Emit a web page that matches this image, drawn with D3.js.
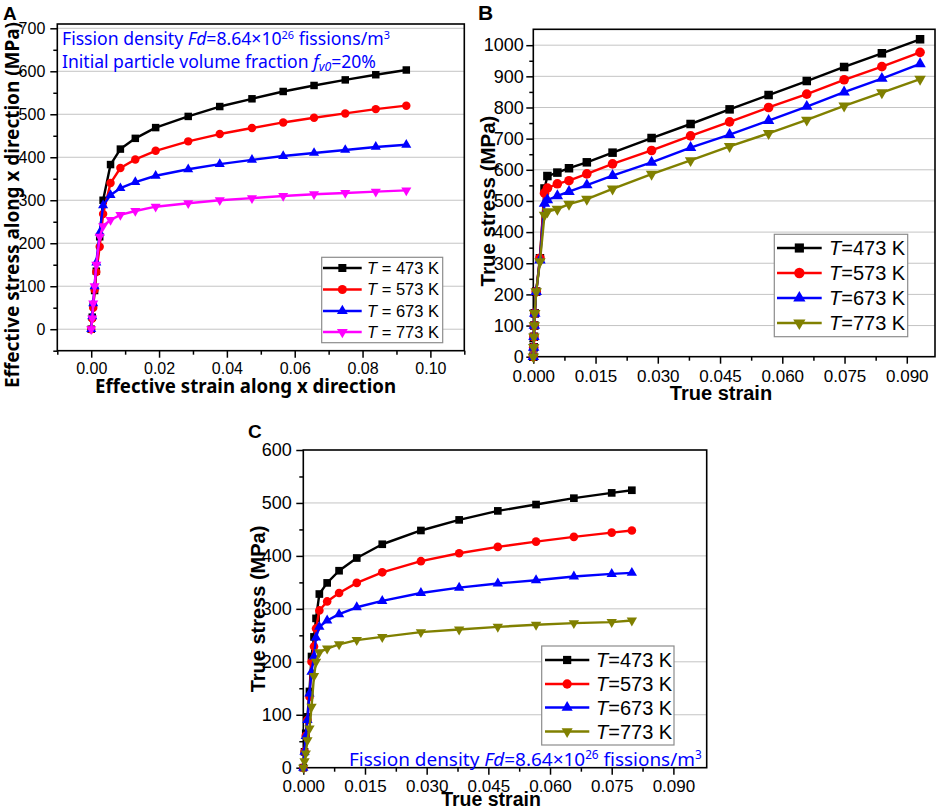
<!DOCTYPE html>
<html>
<head>
<meta charset="utf-8">
<script src="https://cdnjs.cloudflare.com/ajax/libs/d3/7.8.5/d3.min.js"></script>
<style>
  body { margin: 0; background: #fff; }
  svg { display: block; }
</style>
</head>
<body>
<div id="chart"></div>
<script>
// ---- data ----
const temps = ["473", "573", "673", "773"];

// panel A : effective stress-strain along x
const strainA = [0, 0.0003, 0.0006, 0.001, 0.0015, 0.0025, 0.0035, 0.0057, 0.0086, 0.013, 0.019, 0.0286, 0.0379, 0.0474, 0.0566, 0.0657, 0.0749, 0.0839, 0.0929];
const stressA473 = [0, 28, 55, 90, 135, 215, 300, 383, 419, 444, 469, 495, 518, 536, 553, 567, 580, 592, 603];
const stressA573 = [0, 25, 50, 92, 133, 192, 268, 340, 375, 395, 415, 437, 454, 468, 481, 492, 502, 512, 520];
const stressA673 = [0, 30, 60, 100, 155, 225, 288, 312, 328, 342, 357, 372, 384, 394, 403, 410, 417, 424, 429];
const stressA773 = [0, 25, 60, 100, 150, 215, 240, 254, 266, 275, 285, 293, 300, 305, 310, 314, 317, 320, 323];

// panel B : true stress-strain
const strainB = [0, 0.0001, 0.00015, 0.00025, 0.00035, 0.0007, 0.0016, 0.0027, 0.0034, 0.0058, 0.0086, 0.0129, 0.0191, 0.0285, 0.0379, 0.0473, 0.0567, 0.0659, 0.0749, 0.084, 0.0932];
const stressB473 = [0, 30, 64, 100, 139, 209, 316, 540, 580, 591, 605, 624, 655, 702, 747, 794, 840, 885, 930, 974, 1019];
const stressB573 = [0, 30, 64, 100, 139, 209, 316, 525, 541, 555, 565, 587, 619, 662, 709, 754, 800, 843, 889, 931, 977];
const stressB673 = [0, 30, 64, 100, 139, 209, 310, 492, 503, 516, 530, 551, 581, 624, 671, 713, 758, 803, 849, 893, 940];
const stressB773 = [0, 30, 64, 100, 139, 209, 305, 455, 466, 474, 490, 506, 539, 586, 630, 675, 717, 760, 805, 848, 891];

// panel C : true stress-strain
const strainC = [0, 0.0003, 0.0006, 0.001, 0.0015, 0.002, 0.0026, 0.0031, 0.0039, 0.0058, 0.0087, 0.013, 0.0192, 0.0286, 0.0379, 0.0473, 0.0566, 0.0658, 0.075, 0.0799];
const stressC473 = [0, 30, 65, 96, 144, 210, 247, 282, 328, 349, 372, 396, 422, 448, 468, 485, 497, 509, 519, 524];
const stressC573 = [0, 30, 60, 90, 134, 200, 229, 263, 297, 314, 330, 349, 369, 390, 405, 417, 427, 436, 444, 448];
const stressC673 = [0, 30, 60, 90, 140, 181, 210, 246, 266, 278, 290, 303, 315, 330, 340, 348, 354, 361, 366, 368];
const stressC773 = [0, 12, 27, 52, 74, 115, 173, 200, 218, 225, 233, 241, 247, 256, 261, 266, 270, 273, 275, 278];

// ticks
const xTicksA = [0, 0.02, 0.04, 0.06, 0.08, 0.10];
const xMinorA = [-0.01, 0.01, 0.03, 0.05, 0.07, 0.09, 0.11];
const yTicksA = [0, 100, 200, 300, 400, 500, 600, 700];
const yMinorA = [-50, 50, 150, 250, 350, 450, 550, 650];
const xTicksBC = [0, 0.015, 0.030, 0.045, 0.060, 0.075, 0.090];
const xMinorBC = [0.0075, 0.0225, 0.0375, 0.0525, 0.0675, 0.0825];
const yTicksB = [0, 100, 200, 300, 400, 500, 600, 700, 800, 900, 1000];
const yMinorB = [50, 150, 250, 350, 450, 550, 650, 750, 850, 950];
const yTicksC = [0, 100, 200, 300, 400, 500, 600];
const yMinorC = [50, 150, 250, 350, 450, 550];

// ---- styles ----
const colorsA = ["#000000", "#ff0000", "#0000ff", "#ff00ff"];
const colorsBC = ["#000000", "#ff0000", "#0000ff", "#808000"];
const shapes = [d3.symbolSquare, d3.symbolCircle, d3.symbolTriangle, d3.symbolTriangle];
const rotations = [0, 0, 0, 180];
const sizes = [56, 56, 44, 44];
const tickFont = "'Liberation Sans', Arial, sans-serif";
const cjkLike = "'Noto Sans', 'Open Sans', sans-serif";

const svg = d3.select("#chart").append("svg")
    .attr("width", 941)
    .attr("height", 809);

function marker(g, i, cx, cy, scale, color) {
  g.append("path")
    .attr("d", d3.symbol().type(shapes[i]).size(sizes[i] * scale)())
    .attr("transform", `translate(${cx},${cy}) rotate(${rotations[i]})`)
    .attr("fill", color);
}

function drawPanel(p) {
  const x = d3.scaleLinear().domain(p.xDomain).range([p.left, p.right]);
  const y = d3.scaleLinear().domain(p.yDomain).range([p.bottom, p.top]);
  const g = svg.append("g");

  // grid at major y ticks
  g.selectAll("line.grid")
    .data(p.yTicks.filter(v => y(v) > p.top + 1 && y(v) < p.bottom - 1))
    .join("line")
    .attr("x1", p.left).attr("x2", p.right)
    .attr("y1", d => y(d)).attr("y2", d => y(d))
    .attr("stroke", "#c4c4c4").attr("stroke-width", 1);

  // axes
  const ax = g.append("g").attr("transform", `translate(0,${p.bottom})`)
    .call(d3.axisBottom(x).tickValues(p.xTicks).tickSize(7).tickSizeOuter(0)
      .tickPadding(p.xPad).tickFormat(d3.format(p.xFormat)));
  g.append("g").attr("transform", `translate(0,${p.bottom})`)
    .call(d3.axisBottom(x).tickValues(p.xMinor.filter(v => v >= p.xDomain[0] && v <= p.xDomain[1]))
      .tickSize(4).tickSizeOuter(0).tickFormat(""));
  const ay = g.append("g").attr("transform", `translate(${p.left},0)`)
    .call(d3.axisLeft(y).tickValues(p.yTicks).tickSize(7).tickSizeOuter(0)
      .tickPadding(p.yPad).tickFormat(d3.format("d")));
  g.append("g").attr("transform", `translate(${p.left},0)`)
    .call(d3.axisLeft(y).tickValues(p.yMinor).tickSize(4).tickSizeOuter(0).tickFormat(""));

  g.selectAll(".domain").remove();
  g.selectAll(".tick line").attr("stroke", "#000").attr("stroke-width", 1.5);
  ax.selectAll("text").attr("font-family", tickFont).attr("font-size", p.xFont).attr("fill", "#000");
  ay.selectAll("text").attr("font-family", tickFont).attr("font-size", p.yFont).attr("fill", "#000");

  // frame
  g.append("rect")
    .attr("x", p.left).attr("y", p.top)
    .attr("width", p.right - p.left).attr("height", p.bottom - p.top)
    .attr("fill", "none").attr("stroke", "#000").attr("stroke-width", 1.6);

  // curves
  const line = d3.line().x(d => x(d[0])).y(d => y(d[1]));
  p.series.forEach((s, i) => {
    const pts = p.strain.map((e, k) => [e, s[k]]);
    const sg = g.append("g");
    sg.append("path").datum(pts)
      .attr("d", line)
      .attr("fill", "none")
      .attr("stroke", p.colors[i])
      .attr("stroke-width", 2.4)
      .attr("stroke-linejoin", "round");
    pts.forEach(d => marker(sg, i, x(d[0]), y(d[1]), p.markScale, p.colors[i]));
  });

  // legend
  const L = p.legend;
  g.append("rect")
    .attr("x", L.x0).attr("y", L.y0)
    .attr("width", L.x1 - L.x0).attr("height", L.y1 - L.y0)
    .attr("fill", "#fff").attr("stroke", "#8c8c8c").attr("stroke-width", 1.2);
  temps.forEach((t, i) => {
    const ry = L.rows[i];
    g.append("line")
      .attr("x1", L.lx0).attr("x2", L.lx1).attr("y1", ry).attr("y2", ry)
      .attr("stroke", p.colors[i]).attr("stroke-width", 2.4);
    marker(g, i, (L.lx0 + L.lx1) / 2, ry, p.markScale * 1.15, p.colors[i]);
    const tx = g.append("text")
      .attr("x", L.tx).attr("y", ry).attr("dy", "0.36em")
      .attr("font-family", tickFont).attr("font-size", L.font);
    tx.append("tspan").attr("font-style", "italic").text("T");
    tx.append("tspan").text(L.sep + t + " K");
  });

  return g;
}

// fit a text element's advance to a target width by scaling its font size
function fitWidth(t, target) {
  const w = t.node().getComputedTextLength();
  const fs = parseFloat(t.attr("font-size"));
  t.attr("font-size", fs * target / w);
}

function fissionText(x0, y0, fs, target) {
  const t = svg.append("text")
    .attr("x", x0).attr("y", y0)
    .attr("font-family", cjkLike).attr("font-size", fs).attr("fill", "#0000ff");
  t.append("tspan").text("Fission density ");
  t.append("tspan").attr("font-style", "italic").text("Fd");
  t.append("tspan").text("=8.64\u00d710");
  t.append("tspan").attr("font-size", "0.62em").attr("baseline-shift", "55%").text("26");
  t.append("tspan").text(" fissions/m");
  t.append("tspan").attr("font-size", "0.62em").attr("baseline-shift", "55%").text("3");
  fitWidth(t, target);
  return t;
}

// ---- panel A ----
drawPanel({
  left: 57.3, right: 464.3, top: 24, bottom: 350.7,
  xDomain: [-0.01, 0.11], yDomain: [-50, 710],
  xTicks: xTicksA, xMinor: xMinorA, yTicks: yTicksA, yMinor: yMinorA,
  xFormat: ".2f", xPad: 5, yPad: 5, xFont: 16, yFont: 16,
  strain: strainA, series: [stressA473, stressA573, stressA673, stressA773],
  colors: colorsA, markScale: 1,
  legend: { x0: 321.7, x1: 442.7, y0: 257.3, y1: 342.7, rows: [268, 289.5, 311, 332],
            lx0: 323, lx1: 361.7, tx: 367, font: 16.5, sep: " = " }
});

svg.append("text").attr("x", 3).attr("y", 20)
  .attr("font-family", tickFont).attr("font-weight", "bold").attr("font-size", 19).text("A");

svg.append("text")
  .attr("x", 245.5).attr("y", 393)
  .attr("text-anchor", "middle")
  .attr("font-family", cjkLike).attr("font-weight", "bold").attr("font-size", 19)
  .attr("textLength", 301).attr("lengthAdjust", "spacingAndGlyphs")
  .text("Effective strain along x direction");

svg.append("text")
  .attr("transform", "translate(18.5,205) rotate(-90)")
  .attr("text-anchor", "middle")
  .attr("font-family", cjkLike).attr("font-weight", "bold").attr("font-size", 19)
  .attr("textLength", 366).attr("lengthAdjust", "spacingAndGlyphs")
  .text("Effective stress along x direction (MPa)");

fissionText(62, 45, 18, 328);
const vf = svg.append("text")
  .attr("x", 62).attr("y", 68)
  .attr("font-family", cjkLike).attr("font-size", 18).attr("fill", "#0000ff");
vf.append("tspan").text("Initial particle volume fraction ");
vf.append("tspan").attr("font-style", "italic").text("f");
vf.append("tspan").attr("font-style", "italic").attr("font-size", "0.7em").attr("baseline-shift", "-25%").text("v0");
vf.append("tspan").text("=20%");
fitWidth(vf, 314);

// ---- panel B ----
drawPanel({
  left: 533.3, right: 935, top: 29.3, bottom: 356.7,
  xDomain: [0, 0.0968], yDomain: [0, 1051],
  xTicks: xTicksBC, xMinor: xMinorBC, yTicks: yTicksB, yMinor: yMinorB,
  xFormat: ".3f", xPad: 6.5, yPad: 2.5, xFont: 17, yFont: 18,
  strain: strainB, series: [stressB473, stressB573, stressB673, stressB773],
  colors: colorsBC, markScale: 1.3,
  legend: { x0: 774.3, x1: 907.7, y0: 234.3, y1: 336.7, rows: [248, 273, 298, 323],
            lx0: 777, lx1: 821.7, tx: 829, font: 20, sep: "=" }
});

svg.append("text").attr("x", 478).attr("y", 19.5)
  .attr("font-family", tickFont).attr("font-weight", "bold").attr("font-size", 21).text("B");

svg.append("text")
  .attr("x", 721).attr("y", 399.5).attr("text-anchor", "middle")
  .attr("font-family", tickFont).attr("font-weight", "bold").attr("font-size", 20)
  .text("True strain");

svg.append("text")
  .attr("transform", "translate(495,201) rotate(-90)").attr("text-anchor", "middle")
  .attr("font-family", tickFont).attr("font-weight", "bold").attr("font-size", 20.5)
  .text("True stress (MPa)");

// ---- panel C ----
drawPanel({
  left: 303.3, right: 706.7, top: 450, bottom: 767.7,
  xDomain: [0, 0.0981], yDomain: [0, 600],
  xTicks: xTicksBC, xMinor: xMinorBC, yTicks: yTicksC, yMinor: yMinorC,
  xFormat: ".3f", xPad: 5, yPad: 4.5, xFont: 17, yFont: 18,
  strain: strainC, series: [stressC473, stressC573, stressC673, stressC773],
  colors: colorsBC, markScale: 1.05,
  legend: { x0: 541.7, x1: 674, y0: 646, y1: 745, rows: [660, 684, 707.5, 731.5],
            lx0: 545, lx1: 589.3, tx: 596, font: 20, sep: "=" }
});

svg.append("text").attr("x", 248).attr("y", 438)
  .attr("font-family", tickFont).attr("font-weight", "bold").attr("font-size", 19).text("C");

svg.append("text")
  .attr("x", 491).attr("y", 805.5).attr("text-anchor", "middle")
  .attr("font-family", tickFont).attr("font-weight", "bold").attr("font-size", 19.5)
  .text("True strain");

svg.append("text")
  .attr("transform", "translate(265,609) rotate(-90)").attr("text-anchor", "middle")
  .attr("font-family", tickFont).attr("font-weight", "bold").attr("font-size", 20)
  .text("True stress (MPa)");

fissionText(349, 766, 18.5, 353);
</script>
</body>
</html>
